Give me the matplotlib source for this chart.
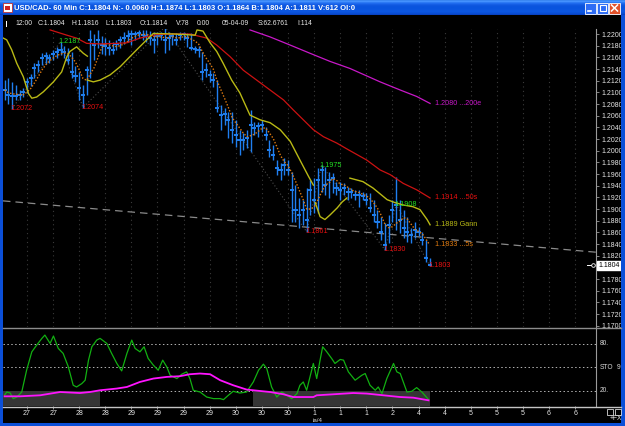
import numpy as np
import pandas as pd
import matplotlib
matplotlib.use("Agg")
import matplotlib.pyplot as plt
import matplotlib.transforms as mtrans
from matplotlib.patches import Rectangle
from matplotlib.colors import to_rgb
from matplotlib import font_manager

nan = np.nan

# ---------------- data ----------------
symbol_line = "USD/CAD- 60 Min C:1.1804 N:- 0.0060 H:1.1874 L:1.1803 O:1.1864 B:1.1804 A:1.1811 V:612 OI:0"
info_items = ["12:00", "C:1.1804", "H:1.1816", "L:1.1803", "O:1.1814", "V:78",
              "0:00", "05-04-09", "S:62.6761", "I:114"]

bar_high = [
    1.2121, 1.2125, 1.2118, 1.2113, 1.2104, 1.2107, 1.2125, 1.2131, 1.2150, 1.2155,
    1.2167, 1.2169, 1.2166, 1.2173, 1.2178, 1.2187, 1.2179, 1.2176, 1.2169, 1.2145,
    1.2135, 1.2113, 1.2145, 1.2207, 1.2200, 1.2207, 1.2197, 1.2193, 1.2190, 1.2186,
    1.2190, 1.2197, 1.2203, 1.2207, 1.2207, 1.2205, 1.2207, 1.2207, 1.2207, 1.2205,
    1.2203, 1.2203, 1.2203, 1.2212, 1.2203, 1.2202, 1.2202, 1.2203, 1.2203, 1.2202,
    1.2202, 1.2179, 1.2179, 1.2169, 1.2150, 1.2138, 1.2133, 1.2121, 1.2078, 1.2073,
    1.2066, 1.2066, 1.2053, 1.2035, 1.2030, 1.2035, 1.2070, 1.2049, 1.2049, 1.2053,
    1.2041, 1.2018, 1.2010, 1.1984, 1.1979, 1.1987, 1.1984, 1.1963, 1.1941, 1.1919,
    1.1915, 1.1936, 1.1950, 1.1953, 1.1970, 1.1975, 1.1972, 1.1963, 1.1962, 1.1946,
    1.1946, 1.1945, 1.1938, 1.1936, 1.1933, 1.1933, 1.1929, 1.1927, 1.1927, 1.1915,
    1.1898, 1.1886, 1.1876, 1.1890, 1.1915, 1.1955, 1.1915, 1.1898, 1.1886, 1.1867,
    1.1878, 1.1869, 1.1861, 1.1847, 1.1816]
bar_low = [
    1.2087, 1.2080, 1.2072, 1.2087, 1.2087, 1.2092, 1.2099, 1.2111, 1.2125, 1.2135,
    1.2147, 1.2149, 1.2150, 1.2155, 1.2159, 1.2164, 1.2159, 1.2149, 1.2125, 1.2118,
    1.2087, 1.2074, 1.2095, 1.2125, 1.2155, 1.2176, 1.2166, 1.2164, 1.2164, 1.2166,
    1.2173, 1.2176, 1.2183, 1.2186, 1.2181, 1.2190, 1.2193, 1.2190, 1.2186, 1.2181,
    1.2167, 1.2181, 1.2190, 1.2167, 1.2173, 1.2181, 1.2181, 1.2190, 1.2190, 1.2178,
    1.2173, 1.2167, 1.2161, 1.2121, 1.2126, 1.2118, 1.2109, 1.2066, 1.2035, 1.2044,
    1.2022, 1.2013, 1.2006, 1.1993, 1.2001, 1.2005, 1.1998, 1.2027, 1.2023, 1.2032,
    1.2018, 1.1989, 1.1984, 1.1958, 1.1950, 1.1958, 1.1958, 1.1878, 1.1878, 1.1867,
    1.1873, 1.1861, 1.1890, 1.1893, 1.1893, 1.1929, 1.1924, 1.1919, 1.1927, 1.1924,
    1.1915, 1.1924, 1.1915, 1.1919, 1.1915, 1.1903, 1.1915, 1.1907, 1.1895, 1.1878,
    1.1867, 1.1847, 1.1830, 1.1842, 1.1878, 1.1864, 1.1859, 1.1850, 1.1844, 1.1842,
    1.1850, 1.1854, 1.1838, 1.1809, 1.1803]
bar_close = [
    1.2104, 1.2095, 1.2094, 1.2094, 1.2095, 1.2101, 1.2118, 1.2125, 1.2142, 1.2147,
    1.2159, 1.2162, 1.2159, 1.2166, 1.2169, 1.2173, 1.2169, 1.2155, 1.2135, 1.2128,
    1.2107, 1.2095, 1.2138, 1.2190, 1.2181, 1.2190, 1.2181, 1.2179, 1.2176, 1.2173,
    1.2183, 1.2190, 1.2193, 1.2197, 1.2200, 1.2200, 1.2202, 1.2198, 1.2197, 1.2193,
    1.2190, 1.2197, 1.2198, 1.2190, 1.2193, 1.2197, 1.2190, 1.2198, 1.2200, 1.2193,
    1.2176, 1.2174, 1.2173, 1.2135, 1.2138, 1.2130, 1.2121, 1.2073, 1.2061, 1.2063,
    1.2053, 1.2035, 1.2027, 1.2018, 1.2018, 1.2022, 1.2044, 1.2039, 1.2042, 1.2044,
    1.2027, 1.2001, 1.1993, 1.1970, 1.1967, 1.1975, 1.1967, 1.1933, 1.1898, 1.1890,
    1.1898, 1.1881, 1.1933, 1.1915, 1.1950, 1.1967, 1.1941, 1.1950, 1.1953, 1.1936,
    1.1933, 1.1936, 1.1929, 1.1929, 1.1924, 1.1924, 1.1922, 1.1915, 1.1902, 1.1890,
    1.1878, 1.1861, 1.1838, 1.1873, 1.1898, 1.1907, 1.1881, 1.1867, 1.1861, 1.1855,
    1.1864, 1.1861, 1.1847, 1.1816, 1.1804]

# swing high / low labels
swing_idx = [2, 15, 21, 81, 85, 102, 105, 114]
swing_price = [1.2072, 1.2187, 1.2074, 1.1861, 1.1975, 1.1830, 1.1908, 1.1803]
swing_is_high = [False, True, False, False, True, False, True, False]

# zigzag (dark dotted) through swing points
zz_idx = [2, 15, 21, 43, 81, 85, 102, 105, 114]
zz_price = [1.2072, 1.2187, 1.2074, 1.2212, 1.1861, 1.1975, 1.1830, 1.1908, 1.1803]

# Gann Hi-Lo activator (yellow)
gann_idx = [-0.35, 0.56, 1.9, 3.25, 5.0, 6.4, 7.3, 8.6, 10.4, 13.1, 15.3, 16.7, 17.5, 19.3, 21.1, 22.2, nan,
            22.2, 23.8, 25.6, 28.3, 31.0, 34.5, 38.1, 39.9, 45.7, 51.1,
            51.6, 53.2, 55.1, 56.9, 58.6, 60.9, 63.1, 65.8, 68.5, 71.2, 73.9, 76.6, 79.2, 81.5, 82.8, nan,
            83.3, 84.6, 85.9, 87.3, 89.2, 90.5, 91.8, nan,
            92.6, 96.1, 98.8, 102.6, 104.7, 106.9, 109.5, 111.4, 113.3, 114.1]
gann_val = [1.2193, 1.2190, 1.2173, 1.2150, 1.2127, 1.2098, 1.2090, 1.2092, 1.2101, 1.2118, 1.2135, 1.2161,
            1.2170, 1.2178, 1.2167, 1.2162, nan,
            1.2121, 1.2118, 1.2121, 1.2130, 1.2144, 1.2167, 1.2190, 1.2201, 1.2200, 1.2198,
            1.2207, 1.2205, 1.2185, 1.2170, 1.2150, 1.2121, 1.2099, 1.2061, 1.2053, 1.2048, 1.2036, 1.2016,
            1.1984, 1.1956, 1.1941, nan,
            1.1911, 1.1887, 1.1882, 1.1890, 1.1902, 1.1912, 1.1919, nan,
            1.1953, 1.1947, 1.1936, 1.1916, 1.1911, 1.1907, 1.1904, 1.1899, 1.1882, 1.1873]

# 50 SMA (red)
ma50_idx = [12.2, 16.7, 19.3, 22.0, 25.6, 30.1, 32.8, 36.3, 40.8, 45.2, 49.7, 54.2, 56.9, 60.5, 64.0,
            67.6, 71.2, 74.8, 77.4, 80.1, 82.8, 85.5, 89.1, 91.8, 97.1, 100.7, 103.4, 106.9, 110.5, 114.1]
ma50_val = [1.2207, 1.2198, 1.2193, 1.2184, 1.2183, 1.2184, 1.2185, 1.2193, 1.2199, 1.2200, 1.2200,
            1.2193, 1.2181, 1.2161, 1.2138, 1.2121, 1.2104, 1.2087, 1.2070, 1.2053, 1.2036, 1.2024,
            1.2013, 1.2003, 1.1984, 1.1967, 1.1959, 1.1944, 1.1933, 1.1919]

# 200 EMA (magenta)
ema200_idx = [65.8, 71.2, 76.6, 81.9, 87.3, 92.6, 100.7, 106.1, 110.5, 114.1]
ema200_val = [1.2207, 1.2195, 1.2181, 1.2167, 1.2153, 1.2141, 1.2118, 1.2104, 1.2093, 1.2081]

# long dashed trend line
trend_idx = [-0.43, 158.6]
trend_val = [1.1914, 1.1826]

ma_label_texts = ["1.2080 ...200e", "1.1914 ...50s", "1.1889 Gann", "1.1833 ...5s"]

# stochastic (9)
sto_k_idx = [0.0, 0.6, 1.5, 2.3, 3.3, 4.6, 5.9, 7.3, 8.6, 10.0, 10.8, 12.2, 13.1, 14.4, 15.7, 17.1,
             18.4, 19.3, 20.7, 21.6, 22.5, 23.4, 24.7, 25.6, 27.4, 28.7, 30.1, 31.4, 32.8, 34.1, 35.0,
             36.3, 37.4, 38.5, 39.9, 41.2, 42.4, 43.5, 44.4, 46.2, 47.5, 48.8, 49.7, 50.6, 52.4, 54.2,
             56.0, 57.8, 58.7, 60.0, 61.3, 63.1, 64.9, 66.7, 68.1, 69.4, 70.3, 71.6, 73.0, 74.3, 75.7,
             77.0, 78.4, 79.2, 80.1, 81.0, 81.9, 82.8, 83.7, 84.6, 85.3, 86.4, 87.7, 88.6, 90.0, 90.9,
             92.2, 94.0, 95.8, 96.7, 98.0, 99.4, 100.2, 101.2, 102.5, 104.3, 105.2, 106.1, 107.9, 109.2,
             110.5, 111.9, 113.7]
sto_k = [15, 18.7, 17.4, 10.3, 12.3, 18.7, 46.4, 69.8, 78.3, 86.9, 91.1, 80.5, 89.9, 74.1, 67.8, 50.6,
         27.3, 25.1, 29.4, 33.7, 59.2, 76.2, 84.7, 86.9, 80.5, 67.8, 55.0, 45.5, 67.8, 84.7, 74.1,
         69.8, 76.2, 61.4, 52.8, 46.4, 59.2, 50.6, 40.0, 35.8, 41.3, 44.3, 35.8, 20.9, 18.7, 12.3,
         10.3, 10.3, 9.0, 14.5, 19.6, 17.4, 18.7, 31.5, 46.4, 54.1, 48.6, 25.1, 12.3, 18.7, 14.5,
         10.3, 16.7, 27.3, 31.5, 20.9, 37.9, 55.0, 35.8, 59.2, 76.2, 69.8, 61.4, 55.0, 60.1, 59.2,
         44.3, 33.7, 40.0, 42.2, 27.3, 20.9, 25.1, 16.7, 35.8, 55.0, 44.3, 42.2, 18.7, 19.6,
         24.3, 18.7, 9.0]
sto_d_idx = [0.0, 4.1, 9.5, 14.9, 20.2, 22.9, 25.6, 30.1, 32.8, 36.3, 39.9, 43.5, 47.0, 49.7, 52.4,
             55.1, 57.8, 61.3, 64.9, 68.5, 71.2, 74.8, 77.4, 82.8, 83.7, 88.2, 93.5, 97.1, 101.6,
             106.1, 109.6, 113.7]
sto_d = [13.2, 13.2, 14.5, 18.7, 17.4, 18.7, 20.9, 23.1, 25.1, 31.5, 35.8, 37.9, 38.8, 41.3, 42.2,
         41.3, 33.7, 27.3, 21.8, 20.0, 18.7, 15.8, 12.3, 12.3, 14.5, 15.8, 17.4, 16.7, 14.5,
         12.3, 11.5, 8.1]
sto_levels = [80, 50, 20]
sto_level_labels = ["80.", "STO", "20."]
sto_band_start = [-0.43, 66.6]
sto_band_end = [25.6, 114.1]

date_tick_idx = [6, 13, 20, 27, 34, 41, 48, 55, 62, 69, 76, 83, 90, 97, 104, 111, 118, 125, 132, 139, 146, 153]
date_labels = ["27", "27", "28", "28", "29", "29", "29", "29", "30", "30", "30",
               "1", "1", "1", "2", "4", "4", "5", "5", "5", "6", "6"]
date_sub_label = "ia/4"

# ---------------- fonts ----------------
names = {f.name for f in font_manager.fontManager.ttflist}
HAS_NARROW = "Liberation Sans Narrow" in names
FONT = "Liberation Sans Narrow" if HAS_NARROW else "Liberation Sans"
plt.rcParams["font.family"] = [FONT, "DejaVu Sans"]
if HAS_NARROW:
    FS = dict(title=6.7, info=5.8, tick=6.0, lab=6.2, date=6.0, small=5.6)
else:
    FS = dict(title=5.5, info=4.9, tick=5.0, lab=5.2, date=5.0, small=4.8)

# ---------------- layout ----------------
W, H = 625, 426
fig = plt.figure(figsize=(W / 100, H / 100), dpi=100, facecolor="black")


def frect(x0, y0, x1, y1):
    return [x0 / W, 1 - y1 / H, (x1 - x0) / W, (y1 - y0) / H]


X0_IDX, X1_IDX = -0.43, 158.6
P_BOT, P_TOP = 1.16978, 1.22086

pa = fig.add_axes(frect(3, 29, 596, 327))
sa = fig.add_axes(frect(3, 328, 596, 406))
fg = fig.add_axes([0, 0, 1, 1], zorder=10)

BLUE = "#1f7ff0"
YEL = "#b9b915"
RED = "#cc1212"
MAG = "#c818c8"
ORA = "#e07b10"
GRN_T = "#22dd22"
RED_T = "#e81010"

for ax in (pa, sa):
    ax.set_facecolor("black")
    ax.set_xlim(X0_IDX, X1_IDX)
    for s in ("top", "left", "bottom"):
        ax.spines[s].set_visible(False)
    ax.spines["right"].set_color("#9a9a9a")
    ax.spines["right"].set_linewidth(0.8)

last = bar_close[-1]

# ---- price panel ----
pa.set_ylim(P_BOT, P_TOP)
pticks = np.round(np.arange(1.1700, 1.22001, 0.002), 4)
pa.set_yticks(pticks)
# the tick label hidden behind the last-price box is left blank
pa.set_yticklabels(["" if abs(t - last) < 0.0008 else f"{t:.4f}" for t in pticks])
pa.yaxis.tick_right()
pa.tick_params(axis="y", direction="out", length=2.5, width=0.6, color="#9a9a9a",
               labelcolor="#e6e6e6", labelsize=FS["tick"], pad=1.5)
pa.set_xticks(date_tick_idx)
pa.tick_params(axis="x", length=0, labelbottom=False)
pa.grid(True, axis="x", color="#3a3a3a", linestyle=(0, (1, 3)), linewidth=0.8)
pa.set_axisbelow(True)

idx = np.arange(len(bar_close))
sma5 = pd.Series(bar_close).rolling(5, min_periods=1).mean()

pa.plot(trend_idx, trend_val, color="#8a8a8a", lw=0.9, ls=(0, (6, 4)), zorder=2)
pa.plot(zz_idx, zz_price, color="#4c4c4c", lw=0.8, ls=(0, (1, 2)), zorder=2)
pa.vlines(idx, bar_low, bar_high, color=BLUE, lw=1.0, zorder=3)
pa.hlines(bar_close, idx - 0.55, idx + 0.55, color=BLUE, lw=1.4, zorder=3)
pa.plot(idx, sma5, color=ORA, lw=1.0, ls=(0, (1, 1.3)), zorder=4)
pa.plot(ema200_idx, ema200_val, color=MAG, lw=0.9, zorder=4)
pa.plot(ma50_idx, ma50_val, color=RED, lw=0.9, zorder=4)
pa.plot(gann_idx, gann_val, color=YEL, lw=1.0, zorder=4)

for i, p, hi in zip(swing_idx, swing_price, swing_is_high):
    pa.text(i - 0.45, p, f"{p:.4f}", color=GRN_T if hi else RED_T, fontsize=FS["lab"],
            ha="left", va="center", zorder=6)

label_x = len(bar_close) + 0.4
ma_ends = [ema200_val[-1], ma50_val[-1], gann_val[-1], sma5.iloc[-1]]
for txt, yv, col in zip(ma_label_texts, ma_ends, [MAG, RED_T, YEL, ORA]):
    pa.text(label_x, yv, txt, color=col, fontsize=FS["lab"], ha="left", va="center", zorder=6)

blend_p = mtrans.blended_transform_factory(pa.transAxes, pa.transData)
pa.text(1.004, last, f"{last:.4f}", transform=blend_p, color="black", fontsize=FS["tick"],
        ha="left", va="center", clip_on=False, zorder=8,
        bbox=dict(boxstyle="square,pad=0.15", facecolor="white", edgecolor="white"))
pa.plot([0.985, 0.993], [last, last], transform=blend_p, color="white", lw=0.7, clip_on=False, zorder=8)
pa.plot([0.995], [last], transform=blend_p, marker="o", ms=2.6, mfc="black", mec="white",
        mew=0.6, clip_on=False, zorder=8)

# ---- stochastic panel ----
sa.set_ylim(0.9, 100.1)
sa.set_yticks([])
sa.set_xticks(date_tick_idx)
sa.set_xticklabels(date_labels)
sa.tick_params(axis="x", direction="out", length=2.5, width=0.6, color="#b0b0b0",
               labelcolor="#e6e6e6", labelsize=FS["date"], pad=0.6)
for x0, x1 in zip(sto_band_start, sto_band_end):
    sa.add_patch(Rectangle((x0, 0), x1 - x0, 20, facecolor="#353535", edgecolor="none", zorder=1.5))
for lev in sto_levels:
    sa.axhline(lev, color="#b4b4b4", ls=(0, (1.5, 2.5)), lw=0.7, zorder=1)
sa.plot(sto_k_idx, sto_k, color="#12b012", lw=0.9, zorder=3)
sa.plot(sto_d_idx, sto_d, color="#ff14ff", lw=1.3, zorder=4)

blend_s = mtrans.blended_transform_factory(sa.transAxes, sa.transData)
for lev, txt in zip(sto_levels, sto_level_labels):
    sa.text(1.007, lev, txt, transform=blend_s, color="#d8d8d8", fontsize=FS["small"],
            ha="left", va="center", clip_on=False)
sa.text(1.035, 50, "9", transform=blend_s, color="#d8d8d8", fontsize=FS["small"],
        ha="left", va="center", clip_on=False)
sa.annotate(date_sub_label, xy=(83, 0), xycoords=("data", "axes fraction"),
            xytext=(2.5, -10.6), textcoords="offset points", color="#d8d8d8",
            fontsize=FS["small"] - 0.4, ha="center", va="center", annotation_clip=False)

# ---- window chrome (overlay in pixel coords) ----
fg.set_xlim(0, W)
fg.set_ylim(H, 0)
fg.axis("off")
rows = ["#3a87f2", "#4592ff", "#2e7bf5", "#1f6bef", "#165fe6", "#0f58e0", "#0b55de", "#0954de",
        "#0954de", "#0a55df", "#0b56e0", "#0c57e2", "#0b53dc", "#0a4ed4", "#0843c4"]
grad = np.array([[to_rgb(c)] for c in rows])
fg.imshow(grad, extent=(0, W, 15, 0), aspect="auto", interpolation="bilinear", zorder=0)
fg.set_xlim(0, W)
fg.set_ylim(H, 0)
BORDER = "#0b4fd8"
fg.add_patch(Rectangle((0, 15), 3, H - 15, facecolor=BORDER, edgecolor="none"))
fg.add_patch(Rectangle((621, 15), 4, H - 15, facecolor=BORDER, edgecolor="none"))
fg.add_patch(Rectangle((0, 423), W, 3, facecolor=BORDER, edgecolor="none"))

# icon
fg.add_patch(Rectangle((3, 3), 9, 9, facecolor="white", edgecolor="#c03030", lw=0.6))
fg.add_patch(Rectangle((5, 6), 5, 4, facecolor="#d02020", edgecolor="none"))
fg.text(14, 8, symbol_line, color="white", fontsize=FS["title"], fontweight="bold",
        ha="left", va="center")
# window buttons
for bx, fc in [(585, "#2d6cf5"), (597, "#2d6cf5"), (609, "#e2512a")]:
    fg.add_patch(Rectangle((bx, 2.5), 11, 11, facecolor=fc, edgecolor="white", lw=0.6))
fg.plot([587.5, 591], [11, 11], color="white", lw=1.2)
fg.add_patch(Rectangle((599.5, 5), 6, 6, facecolor="none", edgecolor="white", lw=0.8))
fg.plot([611.5, 617.5], [5, 11], color="white", lw=1.1)
fg.plot([611.5, 617.5], [11, 5], color="white", lw=1.1)

# info row
fg.add_patch(Rectangle((6, 21), 1.2, 6, facecolor="white", edgecolor="none"))
info_x = [15, 38, 72, 106, 140, 176, 197, 222, 258, 297]
for x, t in zip(info_x, info_items):
    fg.text(x, 23.5, t, color="#e8e8e8", fontsize=FS["info"], ha="left", va="center")

# panel separators
fg.plot([3, 621], [327.5, 327.5], color="#8c8c8c", lw=1.0)
fg.plot([3, 621], [406.5, 406.5], color="#c4c4c4", lw=1.0)

# bottom-right controls
fg.add_patch(Rectangle((607, 408.5), 6, 6, facecolor="none", edgecolor="#d8d8d8", lw=0.6))
fg.add_patch(Rectangle((615, 408.5), 6, 6, facecolor="none", edgecolor="#d8d8d8", lw=0.6))
fg.text(616, 419, "+FX", color="#e0e0e0", fontsize=FS["small"], ha="center", va="center")

fig.savefig("out.png", dpi=100, facecolor="black")
